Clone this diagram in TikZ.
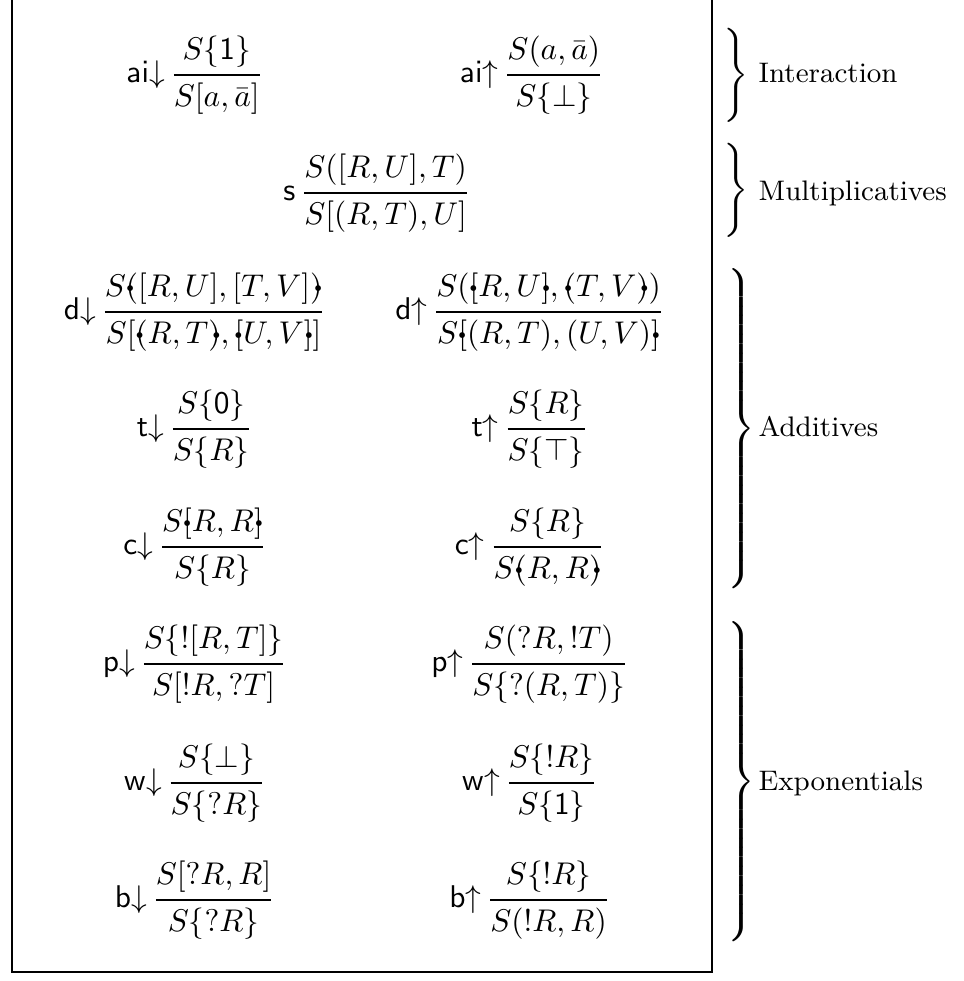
\documentclass[tikz,border=0pt]{standalone}
\usepackage{amsmath,mathtools,graphicx}
\newcommand{\bdt}[1]{\mathrlap{\kern#1\mathclap{\vcenter{\hbox{\scalebox{0.75}{$\scriptscriptstyle\bullet$}}}}}}
\newcommand{\lpo}{\mathopen{\bdt{1.35pt}(}}
\newcommand{\rpo}{\mathclose{\bdt{2.55pt})}}
\newcommand{\lbo}{\mathopen{\bdt{1.25pt}[}}
\newcommand{\rbo}{\mathclose{\bdt{1.55pt}]}}
\newcommand{\myrule}[4]{\mathsf{#1}{#2}\,{\genfrac{}{}{0.7pt}{0}{#3}{#4}}}
\begin{document}
\begin{tikzpicture}[x=0.3185pt,y=-0.3185pt,
  rulen/.style={inner sep=0pt,anchor=base},
  bracen/.style={inner sep=0pt,anchor=west},
  groupn/.style={inner sep=0pt,anchor=base west,font=\small}]
\useasboundingbox (0,0) rectangle (964,981);
\draw[line width=0.9pt] (12,-20) -- (12,972) -- (712,972) -- (712,-20);
% interaction
\node[rulen] (aid) at (195,82.9) {$\myrule{ai}{\downarrow}{S\{\mathsf{1}\}}{S[a,\bar a]}$};
\node[rulen] (aiu) at (532,82.9) {$\myrule{ai}{\uparrow}{S(a,\bar a)}{S\{\bot\}}$};
% multiplicatives
\node[rulen] (sw) at (377,200.9) {$\myrule{s}{}{S([R,U],T)}{S[(R,T),U]}$};
% additives
\node[rulen] (dd) at (195,319.9) {$\myrule{d}{\downarrow}{S\lpo[R,U],[T,V]\rpo}{S[\lpo R,T\rpo,\lbo U,V\rbo]}$};
\node[rulen] (du) at (530,319.9) {$\myrule{d}{\uparrow}{S(\lbo R,U\rbo,\lpo T,V\rpo)}{S\lbo(R,T),(U,V)\rbo}$};
\node[rulen] (td) at (195,436.9) {$\myrule{t}{\downarrow}{S\{\mathsf{0}\}}{S\{R\}}$};
\node[rulen] (tu) at (530,436.9) {$\myrule{t}{\uparrow}{S\{R\}}{S\{\top\}}$};
\node[rulen] (cd) at (195,554.9) {$\myrule{c}{\downarrow}{S\lbo R,R\rbo}{S\{R\}}$};
\node[rulen] (cu) at (530,554.9) {$\myrule{c}{\uparrow}{S\{R\}}{S\lpo R,R\rpo}$};
% exponentials
\node[rulen] (pd) at (195,671.9) {$\myrule{p}{\downarrow}{S\{![R,T]\}}{S[!R,?T]}$};
\node[rulen] (pu) at (530,671.9) {$\myrule{p}{\uparrow}{S(?R,!T)}{S\{?(R,T)\}}$};
\node[rulen] (wd) at (195,790.9) {$\myrule{w}{\downarrow}{S\{\bot\}}{S\{?R\}}$};
\node[rulen] (wu) at (530,790.9) {$\myrule{w}{\uparrow}{S\{!R\}}{S\{\mathsf{1}\}}$};
\node[rulen] (bd) at (195,907.9) {$\myrule{b}{\downarrow}{S[?R,R]}{S\{?R\}}$};
\node[rulen] (bu) at (530,907.9) {$\myrule{b}{\uparrow}{S\{!R\}}{S(!R,R)}$};
% braces
\node[bracen] (br1) at (723,75) {$\Bigg\}$};
\node[bracen] (br2) at (723,190) {$\Bigg\}$};
\node[bracen] (br3) at (723,429) {$\left.\vcenter{\hrule height 103pt width 0pt}\right\}$};
\node[bracen] (br4) at (723,782) {$\left.\vcenter{\hrule height 103pt width 0pt}\right\}$};
\node[groupn] (g1) at (758,82.9) {Interaction};
\node[groupn] (g2) at (758,200.9) {Multiplicatives};
\node[groupn] (g3) at (758,436.9) {Additives};
\node[groupn] (g4) at (758,790.9) {Exponentials};
\end{tikzpicture}
\end{document}
